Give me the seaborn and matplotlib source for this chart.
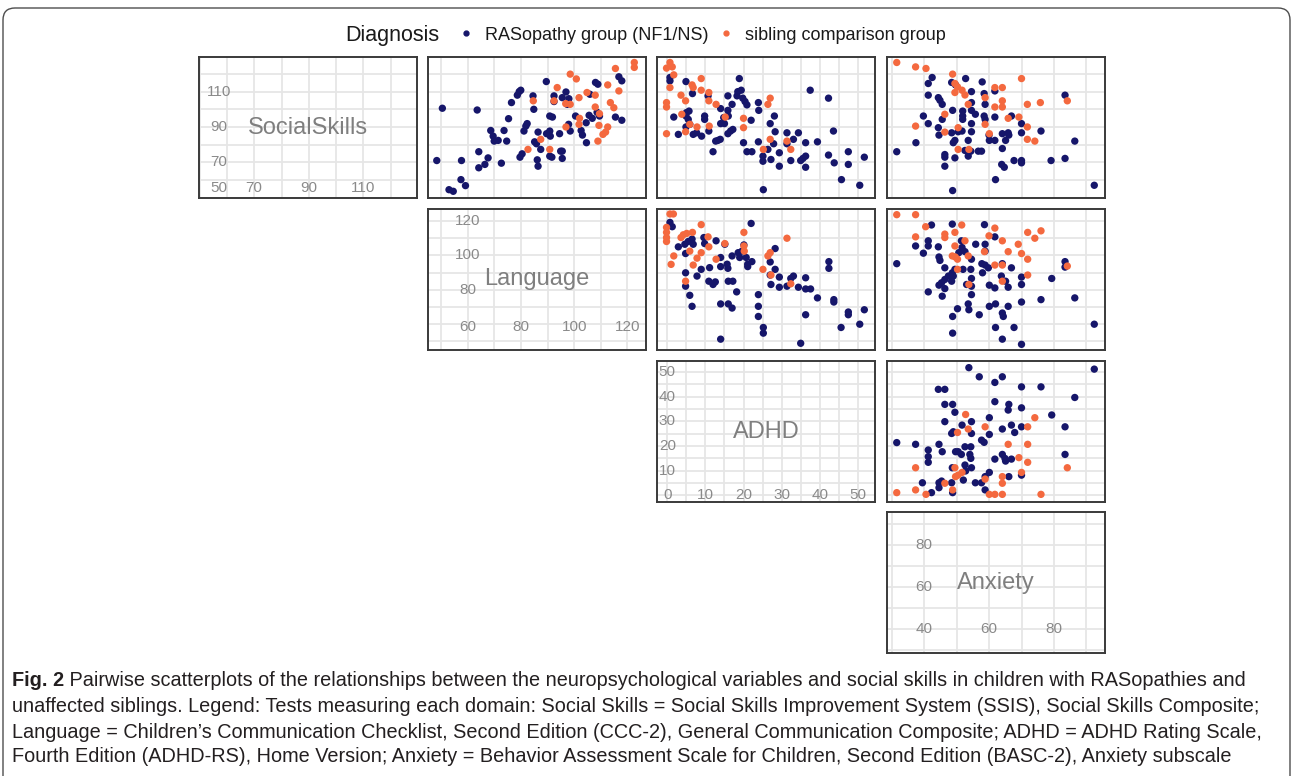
import numpy as np
import pandas as pd
import matplotlib
matplotlib.use("Agg")
import matplotlib.pyplot as plt
import seaborn as sns
from matplotlib import font_manager
from matplotlib.lines import Line2D
from matplotlib.patches import FancyBboxPatch
from matplotlib.transforms import IdentityTransform

# ---- data ----
variables = ["SocialSkills", "Language", "ADHD", "Anxiety"]
groups = ["RASopathy group (NF1/NS)", "sibling comparison group"]

# x = Language, y = SocialSkills
lang_ss_ras = [(48.3, 71), (50.4, 100.6), (52.9, 54.5), (54.5, 53.6), (57.4, 60.2), (57.6, 71), (59.1, 56.8),
               (63.5, 99.6), (64.1, 76), (64.1, 66.9), (66.4, 68.8), (67.6, 72.5), (68.6, 88), (69.5, 84.8),
               (69.9, 82), (71.4, 82.4), (72.6, 69.5), (73.6, 88), (74.6, 82), (75.3, 94.7), (76.4, 103.8),
               (78.6, 108), (79.3, 110), (79.9, 110.8), (79.6, 72.9), (80.4, 74.8), (81.1, 87.7), (81.8, 90.5),
               (82.3, 91.9), (84.5, 107.6), (84.8, 100), (85.1, 81.6), (85.8, 80.5), (86.1, 71.4), (86.4, 67.8),
               (86.4, 87.1), (87.4, 77.3), (89.5, 115.7), (89.6, 86.2), (90.8, 87.7), (91, 84.8), (90.8, 96.2),
               (91.8, 95.6), (90.8, 73.5), (91.6, 72.9), (92.4, 107.6), (92.4, 104.4), (94.5, 86.2), (94.9, 76.3),
               (95.5, 76.3), (95.5, 72.2), (95.5, 106.6), (96.9, 109.8), (97.4, 102.8), (98, 106), (97.9, 91.5),
               (98.5, 87.7), (100.5, 96.2), (102.6, 88), (103.1, 85.4), (104.5, 92.4), (104.6, 81.1), (105.6, 96.6),
               (105.9, 108.5), (106.8, 94.9), (108, 115.2), (108.9, 114.2), (108.6, 98.3), (109.5, 96.2),
               (115.5, 95.6), (116.8, 118.4), (117.9, 116.1), (117.9, 93.8)]
lang_ss_sib = [(84.6, 104.8), (82.6, 77.3), (87.4, 83), (90.8, 77.3), (92.4, 104.8), (93.6, 112.3), (96.8, 103.2),
               (98.5, 102.8), (98.5, 119.9), (100.8, 117.2), (101.8, 106.6), (101.8, 91.5), (102, 94.9), (96.9, 90),
               (104.8, 109.5), (107.9, 108), (107.9, 101.3), (109.3, 90.9), (109.5, 97.5), (108.9, 82), (110.8, 85.8),
               (111.8, 87.1), (112.6, 90), (112.6, 113.8), (113.6, 103.8), (114.9, 100.9), (115.5, 123.1),
               (116.8, 110.4), (122.6, 126.5), (122.6, 123.7)]

# x = ADHD, y = SocialSkills
adhd_ss_ras = [(0.7, 118), (0.7, 116.1), (4.9, 115.7), (1.7, 95.6), (2.9, 85.8), (4.9, 96.2), (5.0, 98.1), (5.5, 94.3),
               (5.7, 99), (4.9, 90), (5.9, 91.5), (6.6, 108.9), (6.8, 85.8), (7.7, 86.7), (9, 84.8), (9.8, 96.2),
               (9.8, 94.3), (10.7, 107.6), (10.9, 87.7), (12, 76), (12.7, 82), (13.3, 82.4), (13.9, 83), (14, 100.4),
               (14, 91.9), (14.8, 95.3), (15, 91.9), (15.9, 107.6), (15.9, 99.4), (16, 96.2), (15.9, 86.2),
               (16.6, 87.7), (17, 102.8), (17.2, 88.6), (18.3, 107.6), (18.5, 110), (18.9, 117.4), (19.4, 110.8),
               (19.8, 106.3), (20, 81.1), (20.4, 104.4), (20.9, 102.5), (20.9, 76), (22, 93.8), (22.2, 76),
               (23.9, 103.8), (24, 99.4), (23.9, 81.6), (25.1, 73.5), (25.1, 70.6), (25.2, 54.5), (26.4, 77.3),
               (27, 91.9), (27.2, 71.6), (28.1, 96.2), (28.3, 87.3), (27.9, 80.5), (29.4, 75.4), (29.4, 67.8),
               (31.4, 86.7), (31.4, 80.5), (32.4, 71), (33.1, 83), (34.4, 86.7), (35, 71), (35.6, 72.2), (36.3, 81.1),
               (36.3, 73.5), (36.3, 67.2), (37.5, 110.8), (39.4, 81.6), (42.3, 106.3), (42.3, 74.1), (43.6, 87.7),
               (43.8, 69.7), (45.7, 60.2), (47.5, 76), (47.5, 68.8), (50.5, 57), (51.7, 72.9)]
adhd_ss_sib = [(-0.2, 123.3), (0.7, 126.5), (1.3, 124), (1.7, 119.5), (0.7, 112.3), (-0.2, 103.8), (-0.2, 101.3),
               (-0.2, 86.2), (3.6, 108), (3.8, 97.2), (4.8, 104.8), (5.9, 91.5), (4.8, 87.3), (6.5, 113.8),
               (6.8, 112.3), (7.8, 90), (8.9, 117.4), (8.9, 110.8), (10.9, 109.5), (10.9, 104.8), (11, 90.5),
               (12.8, 102.8), (15.2, 95.6), (20, 94.9), (20, 89.6), (25.2, 77.3), (26.4, 102.8), (27, 106.3),
               (27, 83), (31.4, 82), (32.4, 77.3)]

# x = Anxiety, y = SocialSkills
anx_ss_ras = [(31.6, 76), (37.5, 81.1), (39.8, 96.2), (41.3, 114.6), (42.5, 118), (41.3, 108), (41.3, 91.9),
              (44.4, 106.6), (44.9, 105.1), (45.6, 102.8), (44.4, 89.6), (44.6, 85.4), (45.6, 94.3), (46.4, 74.4),
              (46.4, 72.9), (46.4, 67.8), (48.5, 115.2), (48.8, 99.4), (48.5, 86.7), (49, 81.1), (49.5, 82.4),
              (49.5, 72.5), (48.8, 54), (49.7, 113.8), (50.5, 87.3), (51.7, 87.7), (51.9, 99), (51.9, 96.2),
              (51.9, 94.3), (52.8, 117.4), (52.6, 76.7), (53.6, 82.4), (53.6, 73.5), (54.4, 76.3), (54.6, 110),
              (54.6, 103.8), (54.6, 99.4), (54.6, 91.9), (54.6, 87.3), (55.8, 97.2), (56.7, 76.3), (57.7, 76.3),
              (57.9, 115.5), (58.5, 108.9), (58.8, 102.8), (58.5, 96.2), (58.8, 94.3), (60, 85.4), (60.1, 82.4),
              (61.8, 82.4), (61.8, 95.6), (61.8, 110.4), (62, 60.2), (63.9, 68.8), (64.1, 86.2), (64.1, 77.8),
              (64.7, 67.2), (65.1, 82.4), (65.9, 86.7), (66.1, 85.4), (66.9, 96.2), (67.7, 71), (70, 91.9),
              (70, 86.7), (70, 71), (70, 69.7), (76, 87.7), (79.1, 71), (83.4, 108), (83.4, 72.2), (86.4, 82),
              (92.4, 57)]
anx_ss_sib = [(31.6, 126.5), (37.4, 124), (40.6, 123.1), (37.4, 90.5), (46.4, 97.2), (46.4, 87.1), (48.8, 119.9),
              (49.5, 114.6), (50.3, 112.7), (49.5, 109.5), (50.5, 89.6), (50.5, 77.3), (51.7, 110.8), (52.6, 108.1),
              (53.6, 102.8), (53.8, 77.3), (58.8, 106.6), (58.8, 91.5), (60.1, 86.2), (61.8, 112.3), (61.8, 101.3),
              (64.1, 112.3), (64.1, 104.8), (64.1, 101.3), (65.9, 94.9), (69.2, 95.6), (70, 117.4), (71.8, 102.8),
              (71.8, 90), (71.8, 83), (74.1, 82), (75.8, 103.8), (84.1, 104.8)]

# x = ADHD, y = Language
adhd_lang_ras = [(0.7, 119.2), (1.3, 116.7), (2.9, 105), (4.6, 106.5), (4.8, 101.1), (4.8, 89.9), (4.8, 82.1),
                 (5.5, 108.1), (5.9, 76.8), (6.5, 109.5), (6.5, 70.4), (6.8, 106.5), (7.8, 88), (8.9, 91.9),
                 (9.6, 110.4), (9.8, 106.9), (10.9, 85), (11.1, 92.9), (12, 83.1), (12.6, 84.6), (12.8, 108.5),
                 (14, 98.8), (14, 93.5), (14, 71.8), (14, 51.3), (15.1, 106.5), (15.7, 94.9), (15.9, 92.5), (16, 85),
                 (16, 71.8), (17, 69.4), (17, 99.7), (17.2, 85), (18.2, 78.8), (18.6, 101.6), (19, 98.8),
                 (19.6, 102.5), (20.1, 106.1), (20.7, 98.8), (21.1, 94.9), (21.1, 93.5), (22.2, 96.4), (22, 118.6),
                 (23.9, 77.2), (23.9, 70.4), (23.9, 64.5), (25.2, 58.1), (25.2, 54.8), (27, 96.2), (27.2, 83.1),
                 (27, 88.6), (28.3, 104), (28.3, 91.9), (29.4, 87.4), (29.4, 81.5), (31.4, 82.1), (32.4, 86.6),
                 (33.1, 88), (34.4, 81.5), (35, 48.9), (36.3, 87), (36.3, 80.5), (36.3, 65.5), (37.6, 80.5),
                 (39.4, 75.3), (42.4, 96.4), (42.4, 92.5), (43.7, 74.3), (43.7, 72.9), (45.6, 58.1), (47.5, 67.1),
                 (47.5, 65.5), (50.5, 60), (51.7, 68.4)]
adhd_lang_sib = [(0.7, 124.1), (1.6, 124.1), (-0.2, 116.3), (-0.2, 113.4), (-0.2, 110.4), (-0.2, 108.1), (1, 94.8),
                 (1.7, 99.7), (3.6, 110.4), (4.2, 112), (5.1, 112.8), (4.8, 85), (5.9, 102.5), (6.6, 113.4),
                 (6.8, 94.4), (7.8, 98.4), (8.9, 117.9), (8.9, 101.6), (10.7, 110.8), (10.9, 105), (12.8, 97.8),
                 (15.1, 106.9), (20.1, 113.4), (20.1, 105.5), (20.2, 102.5), (25.1, 91.9), (26.4, 99.7), (27, 101.6),
                 (27.2, 88.6), (31.4, 110), (32.4, 83.5)]

# x = Anxiety, y = Language
anx_lang_ras = [(31.6, 95.2), (37.4, 105.5), (39.8, 101.3), (41.3, 108.5), (41.3, 105.5), (41.3, 78.8), (42.3, 117.7),
                (44.4, 105), (44.6, 99.1), (44.6, 82.7), (44.9, 97.1), (45.4, 84.1), (45.6, 76.3), (46.4, 92.8),
                (46.4, 80.7), (46.4, 86), (47.5, 88), (48.5, 85), (48.7, 118.2), (48.7, 89.9), (49, 88), (48.8, 64.5),
                (48.8, 54.8), (49.5, 91.9), (50.3, 69), (50.7, 101.6), (51.5, 108.5), (51.7, 104.6), (52, 91.9),
                (52.6, 102.2), (53.1, 83.1), (53.6, 71.8), (53.8, 68.4), (54.4, 91.9), (54.6, 97.8), (54.6, 86.6),
                (54.6, 77.2), (54.6, 82.1), (55.9, 106.5), (57, 65.5), (57.8, 95.2), (58, 89.9), (58.6, 117.9),
                (58.8, 106.5), (58.8, 102.5), (58.8, 94.4), (59.8, 92.8), (60.1, 82.7), (60.1, 70.4), (61.8, 110.8),
                (61.8, 81.1), (62, 71.8), (62, 58.1), (63.8, 88), (64.1, 95.2), (64.1, 66.5), (64.1, 51.3),
                (64.4, 64.5), (65.1, 85), (65.9, 81.5), (65.9, 70.4), (66.9, 92.8), (67.7, 58.1), (70, 87.4),
                (70, 83.1), (70, 72.9), (70, 48.3), (79.3, 86.6), (76, 74.3), (83.4, 96.4), (83.4, 93.2),
                (86.4, 75.3), (92.4, 60)]
anx_lang_sib = [(31.6, 123.7), (37.4, 123.7), (37.4, 110.8), (40.5, 116.7), (46.4, 112.4), (46.4, 110.4),
                (49.5, 113.4), (49.5, 105.5), (48.7, 99.7), (49.6, 99.1), (50.3, 97.8), (50.3, 91.9), (51.6, 117.7),
                (52.6, 108.5), (53.6, 99.7), (53.8, 83.1), (58.6, 102.2), (60, 111.4), (61.8, 115.9), (61.8, 94.4),
                (64.1, 108.5), (64.1, 94.4), (64.1, 85), (65.9, 102.2), (69, 106.5), (70, 101.1), (71.9, 113.4),
                (71.9, 97.8), (71.9, 88.6), (74.1, 110), (76, 114.3), (84.1, 93.8)]

# x = Anxiety, y = ADHD
anx_adhd_ras = [(31.6, 21.4), (37.4, 20.7), (39.5, 5.1), (41.3, 18.4), (41.3, 15.7), (41.3, 13.4), (42.3, 1.1),
                (44.4, 43), (46.4, 43), (44.6, 20.7), (44.6, 5.1), (44.6, 3.1), (45.4, 5.8), (45.6, 17.7),
                (46.4, 36.9), (46.4, 29.9), (48.8, 36.9), (49.5, 33.7), (48.5, 25.1), (49, 25.8), (48.7, 11.2),
                (48.5, 5.1), (48.8, 1.1), (49.7, 17.7), (50.5, 17.7), (51.5, 16.6), (51.7, 28.5), (52.6, 19.7),
                (52.6, 12.3), (52.8, 9.9), (52.1, 6.2), (53.8, 51.8), (54.4, 19.7), (54.6, 29.9), (54.6, 25.1),
                (54.1, 16.6), (54.4, 15), (54.6, 11.2), (55.8, 5.1), (57, 48.1), (57.7, 5.1), (57.7, 22.4),
                (58.5, 21.5), (58.8, 2.2), (58.8, 7.6), (60.1, 31.5), (60.1, 24.7), (60.1, 9.3), (61.8, 45.8),
                (61.8, 38), (61.8, 14.7), (64.1, 48.1), (64.1, 26.9), (64.1, 16.6), (64.9, 15), (65.1, 13.9),
                (65.9, 34.6), (66.1, 36.9), (66.1, 7.6), (66.9, 28.5), (66.9, 14.7), (67.9, 25.5), (70, 44),
                (70, 35.5), (70, 27.8), (70, 8.2), (76, 44), (79.3, 32.6), (83.4, 27.8), (83.4, 16.6), (86.4, 39.7),
                (92.4, 51.2)]
anx_adhd_sib = [(31.6, 1.1), (37.4, 11.2), (37.4, 2.2), (40.6, 0.4), (46.4, 4.9), (48.8, 2.2), (49.5, 11.2),
                (49.7, 7.6), (50.3, 25.5), (50.5, 8.2), (51.7, 9.3), (52.8, 32.8), (53.6, 26.9), (58.8, 27.8),
                (58.8, 6.6), (60.1, 0.4), (61.8, 0.4), (64.1, 7.6), (64.1, 4.9), (64.1, 0.4), (65.9, 20.7),
                (69.2, 15.3), (70, 9.3), (71.9, 27.8), (71.9, 20.7), (71.9, 13.4), (74.1, 31.5), (76, 0.4),
                (84.1, 11.2)]

# axis labels drawn inside the diagonal panels
diag_xticks = {"SocialSkills": [70, 90, 110], "Language": [60, 80, 100, 120],
               "ADHD": [0, 10, 20, 30, 40, 50], "Anxiety": [40, 60, 80]}
diag_yticks = {"SocialSkills": [50, 70, 90, 110], "Language": [80, 100, 120],
               "ADHD": [10, 20, 30, 40, 50], "Anxiety": [60, 80]}

caption_lines = [
    " Pairwise scatterplots of the relationships between the neuropsychological variables and social skills in children with RASopathies and",
    "unaffected siblings. Legend: Tests measuring each domain: Social Skills = Social Skills Improvement System (SSIS), Social Skills Composite;",
    "Language = Children\u2019s Communication Checklist, Second Edition (CCC-2), General Communication Composite; ADHD = ADHD Rating Scale,",
    "Fourth Edition (ADHD-RS), Home Version; Anxiety = Behavior Assessment Scale for Children, Second Edition (BASC-2), Anxiety subscale",
]

# ---- layout / style ----
limits = {"SocialSkills": (49.8, 129.6), "Language": (45.0, 127.0), "ADHD": (-2.7, 54.5), "Anxiety": (28.6, 95.7)}
grid_step = {"SocialSkills": 10, "Language": 10, "ADHD": 5, "Anxiety": 10}
label_anchor = {"SocialSkills": (57.0, 55.7), "Language": (60.0, 58.5), "ADHD": (0.0, 0.0), "Anxiety": (40.0, 40.0)}
navy, orange = "#16166a", "#f4693f"

panels = {(0, 1): (lang_ss_ras, lang_ss_sib), (0, 2): (adhd_ss_ras, adhd_ss_sib), (0, 3): (anx_ss_ras, anx_ss_sib),
          (1, 2): (adhd_lang_ras, adhd_lang_sib), (1, 3): (anx_lang_ras, anx_lang_sib),
          (2, 3): (anx_adhd_ras, anx_adhd_sib)}

sns.set_theme(style="white")
names = {f.name for f in font_manager.fontManager.ttflist}


def pick(cands):
    for c in cands:
        if c in names:
            return c
    return "DejaVu Sans"


main_font = pick(["Liberation Sans", "Arial"])
cap_font = pick(["Liberation Sans Narrow", "Liberation Sans"])
plt.rcParams["font.family"] = [main_font, "DejaVu Sans"]

W, H = 1293, 776
fig = plt.figure(figsize=(W / 100, H / 100), dpi=100)
fig.patch.set_facecolor("white")

col_left = [199, 428, 657, 887]
row_top = [57, 209, 361, 512]
pw, ph = 218, 141


def style_axes(ax, xvar, yvar):
    xlo, xhi = limits[xvar]
    ylo, yhi = limits[yvar]
    ax.set_xlim(xlo, xhi)
    ax.set_ylim(ylo, yhi)
    ax.set_xticks(np.arange(np.ceil(xlo / grid_step[xvar]) * grid_step[xvar], xhi, grid_step[xvar]))
    ax.set_yticks(np.arange(np.ceil(ylo / grid_step[yvar]) * grid_step[yvar], yhi, grid_step[yvar]))
    ax.tick_params(length=0, labelbottom=False, labelleft=False)
    ax.grid(True, color="#e6e6e6", lw=1.3)
    ax.set_axisbelow(True)
    ax.set_xlabel("")
    ax.set_ylabel("")
    for sp in ax.spines.values():
        sp.set_visible(True)
        sp.set_color("#3a3a3a")
        sp.set_linewidth(1.4)


for r in range(4):
    for c in range(r, 4):
        ax = fig.add_axes([col_left[c] / W, 1 - (row_top[r] + ph) / H, pw / W, ph / H])
        xvar, yvar = variables[c], variables[r]
        if r == c:
            style_axes(ax, xvar, yvar)
            xlo, xhi = limits[xvar]
            ylo, yhi = limits[yvar]
            ax.text((xlo + xhi) / 2, (ylo + yhi) / 2, xvar, ha="center", va="center",
                    fontsize=17, color="#7f7f7f")
            xa, ya = label_anchor[xvar]
            for v in diag_xticks[xvar]:
                ax.text(v, ya, str(v), ha="center", va="center", fontsize=11, color="#8a8a8a")
            for v in diag_yticks[yvar]:
                ax.text(xa, max(v, ya), str(v), ha="center", va="center", fontsize=11, color="#8a8a8a")
        else:
            ras, sib = panels[(r, c)]
            df = pd.concat([
                pd.DataFrame(ras, columns=["x", "y"]).assign(Diagnosis=groups[0]),
                pd.DataFrame(sib, columns=["x", "y"]).assign(Diagnosis=groups[1]),
            ], ignore_index=True)
            sns.scatterplot(data=df, x="x", y="y", hue="Diagnosis", hue_order=groups,
                            palette=[navy, orange], s=28, linewidth=0, legend=False, ax=ax)
            style_axes(ax, xvar, yvar)

# legend across the top
fig.text(345 / W, 1 - 36 / H, "Diagnosis", fontsize=15.5, color="#1a1a1a", ha="left", va="center")
handles = [Line2D([], [], marker="o", ls="", color=navy, markersize=3.5),
           Line2D([], [], marker="o", ls="", color=orange, markersize=3.5)]
fig.legend(handles, groups, loc="center left", bbox_to_anchor=(457 / W, 1 - 35 / H), ncol=2, frameon=False,
           fontsize=13, handlelength=1.0, handletextpad=0.55, columnspacing=0.45, borderaxespad=0,
           borderpad=0, labelcolor="#1a1a1a")

# caption, fitted to the width of the reference lines
renderer = fig.canvas.get_renderer()
line_y = [681, 706, 732, 757]
line_end = [1250, 1220, 1283, 1222]
x0 = 12


def width_px(t):
    return t.get_window_extent(renderer).width


probe_b = fig.text(0, 0, "Fig. 2", fontsize=10, family=cap_font, weight="bold")
bw = width_px(probe_b)
probe_b.remove()
scales = []
for i, line in enumerate(caption_lines):
    p = fig.text(0, 0, line, fontsize=10, family=cap_font)
    w = width_px(p) + (bw if i == 0 else 0)
    p.remove()
    scales.append((line_end[i] - x0) / w)
fs = 10 * float(np.median(scales))

bold = fig.text(x0 / W, 1 - line_y[0] / H, "Fig. 2", fontsize=fs, family=cap_font, weight="bold",
                color="#231f20", va="center", ha="left")
bwidth = width_px(bold)
for i, line in enumerate(caption_lines):
    xs = x0 + (bwidth if i == 0 else 0)
    fig.text(xs / W, 1 - line_y[i] / H, line, fontsize=fs, family=cap_font, color="#231f20",
             va="center", ha="left")

# rounded outer frame
frame = FancyBboxPatch((3, -30), 1287, 768 + 30, boxstyle="round,pad=0,rounding_size=12",
                       transform=IdentityTransform(), fill=False, ec="#4d4d4d", lw=1.0)
fig.patches.append(frame)

fig.savefig("out.png", dpi=100)
